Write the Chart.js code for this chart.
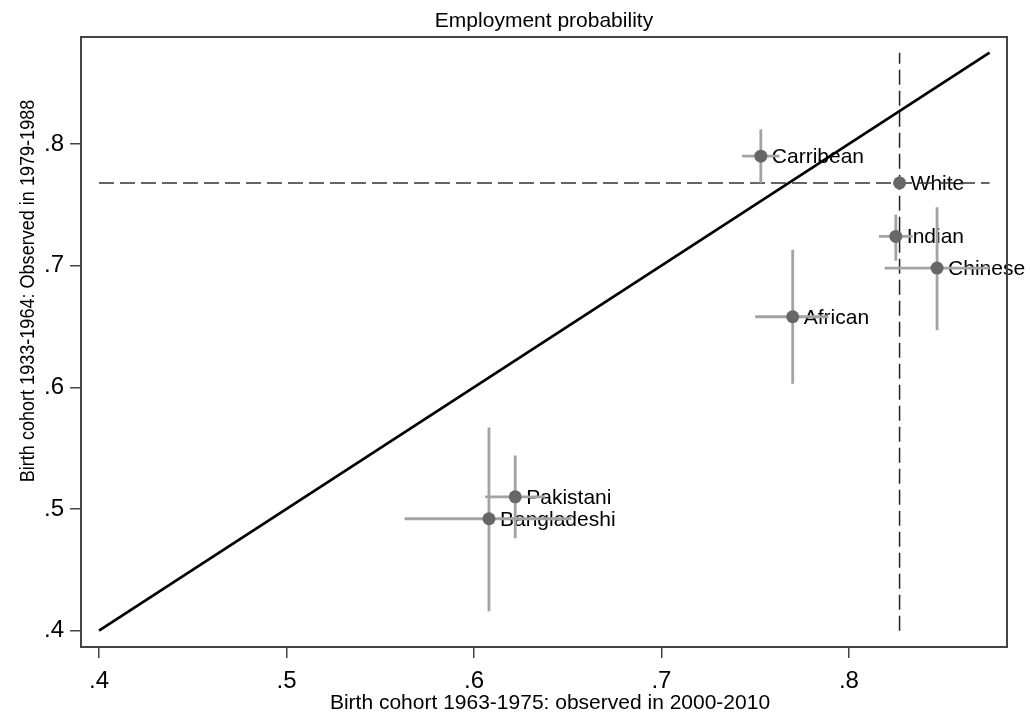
<!DOCTYPE html>
<html lang="en">
<head>
<meta charset="UTF-8">
<title>Employment probability</title>
<style>
    body { margin: 0; background: #fff; }
    #wrap { width: 1030px; height: 717px; }
</style>
</head>
<body>
<div id="wrap"><canvas id="chart" width="1030" height="717"></canvas></div>

<script src="https://cdn.jsdelivr.net/npm/chart.js"></script>
<script>
// groups and their point estimates
const categories = ['White', 'Carribean', 'Indian', 'Chinese', 'African', 'Pakistani', 'Bangladeshi'];
const xVals = [0.827, 0.753, 0.825, 0.847, 0.770, 0.622, 0.608];
const yVals = [0.768, 0.790, 0.724, 0.698, 0.658, 0.510, 0.492];

// confidence intervals
const xLo = [0.825, 0.743, 0.816, 0.819, 0.750, 0.606, 0.563];
const xHi = [0.829, 0.763, 0.834, 0.875, 0.789, 0.638, 0.652];
const yLo = [0.766, 0.768, 0.704, 0.647, 0.603, 0.476, 0.416];
const yHi = [0.770, 0.812, 0.742, 0.748, 0.713, 0.544, 0.567];

// 45 degree line and reference lines span
const lineRange = [0.4, 0.875];

const tickValues = [0.4, 0.5, 0.6, 0.7, 0.8];
const tickLabels = ['.4', '.5', '.6', '.7', '.8'];

const FONT = 'Arial, "Liberation Sans", sans-serif';

// error bars: horizontal and vertical segments, split by gaps
const barPoints = [];
categories.forEach((c, i) => {
    barPoints.push({ x: xLo[i], y: yVals[i] }, { x: xHi[i], y: yVals[i] }, { x: xVals[i], y: null });
    barPoints.push({ x: xVals[i], y: yLo[i] }, { x: xVals[i], y: yHi[i] }, { x: xVals[i], y: null });
});

const whiteX = xVals[0];
const whiteY = yVals[0];

const textPlugin = {
    id: 'stataText',
    beforeDatasetsDraw(chart) {
        const ctx = chart.ctx;
        const xs = chart.scales.x, ys = chart.scales.y;
        ctx.save();
        ctx.fillStyle = '#000';
        ctx.font = '21px ' + FONT;
        ctx.textAlign = 'left';
        ctx.textBaseline = 'middle';
        categories.forEach((c, i) => {
            ctx.fillText(c, xs.getPixelForValue(xVals[i]) + 11, ys.getPixelForValue(yVals[i]) + 1);
        });
        ctx.restore();
    },
    afterDraw(chart) {
        const ctx = chart.ctx;
        const a = chart.chartArea;
        ctx.save();
        // plot frame
        ctx.strokeStyle = '#444';
        ctx.lineWidth = 2;
        ctx.strokeRect(a.left, a.top, a.right - a.left, a.bottom - a.top);

        ctx.fillStyle = '#000';
        ctx.textAlign = 'center';
        ctx.textBaseline = 'alphabetic';
        ctx.font = '21px ' + FONT;
        ctx.fillText('Employment probability', (a.left + a.right) / 2, 27);
        ctx.fillText('Birth cohort 1963-1975: observed in 2000-2010', 550, 709);

        // y axis title, rotated
        ctx.translate(34, 291);
        ctx.rotate(-Math.PI / 2);
        ctx.scale(0.86, 1);
        ctx.fillText('Birth cohort 1933-1964: Observed in 1979-1988', 0, 0);
        ctx.restore();
    }
};

const axisCommon = {
    type: 'linear',
    afterBuildTicks(scale) {
        scale.ticks = tickValues.map(v => ({ value: v }));
    },
    grid: {
        drawOnChartArea: false,
        drawTicks: true,
        tickLength: 11,
        color: '#444',
        lineWidth: 1.5
    },
    border: { display: true, color: '#444', width: 2 },
    ticks: {
        color: '#000',
        font: { family: FONT, size: 24 },
        maxRotation: 0,
        callback: (v, i) => tickLabels[i]
    }
};

new Chart(document.getElementById('chart').getContext('2d'), {
    type: 'scatter',
    data: {
        datasets: [
            {
                label: 'groups',
                data: categories.map((c, i) => ({ x: xVals[i], y: yVals[i] })),
                pointRadius: 6.5,
                pointBackgroundColor: '#676767',
                pointBorderWidth: 0,
                order: 0
            },
            {
                label: 'ci',
                data: barPoints,
                showLine: true,
                spanGaps: false,
                pointRadius: 0,
                borderColor: '#a3a3a3',
                borderWidth: 2.8,
                order: 1
            },
            {
                label: 'white x',
                data: [{ x: whiteX, y: lineRange[0] }, { x: whiteX, y: lineRange[1] }],
                showLine: true,
                pointRadius: 0,
                borderColor: '#222',
                borderWidth: 1.5,
                borderDash: [15, 6],
                order: 2
            },
            {
                label: 'white y',
                data: [{ x: lineRange[0], y: whiteY }, { x: lineRange[1], y: whiteY }],
                showLine: true,
                pointRadius: 0,
                borderColor: '#333',
                borderWidth: 1.5,
                borderDash: [15, 6],
                order: 3
            },
            {
                label: '45 degree',
                data: lineRange.map(v => ({ x: v, y: v })),
                showLine: true,
                pointRadius: 0,
                borderColor: '#000',
                borderWidth: 2.7,
                order: 4
            }
        ]
    },
    options: {
        responsive: false,
        animation: false,
        layout: { padding: { top: 37, right: 23, left: 0, bottom: 0 } },
        plugins: {
            legend: { display: false },
            tooltip: { enabled: false }
        },
        scales: {
            x: Object.assign({}, axisCommon, {
                min: 0.3904,
                max: 0.8843,
                afterFit(scale) { scale.height = 70; },
                ticks: Object.assign({}, axisCommon.ticks, { padding: 9 })
            }),
            y: Object.assign({}, axisCommon, {
                min: 0.3866,
                max: 0.8879,
                afterFit(scale) { scale.width = 81; },
                ticks: Object.assign({}, axisCommon.ticks, { padding: 6 })
            })
        }
    },
    plugins: [textPlugin]
});
</script>
</body>
</html>
